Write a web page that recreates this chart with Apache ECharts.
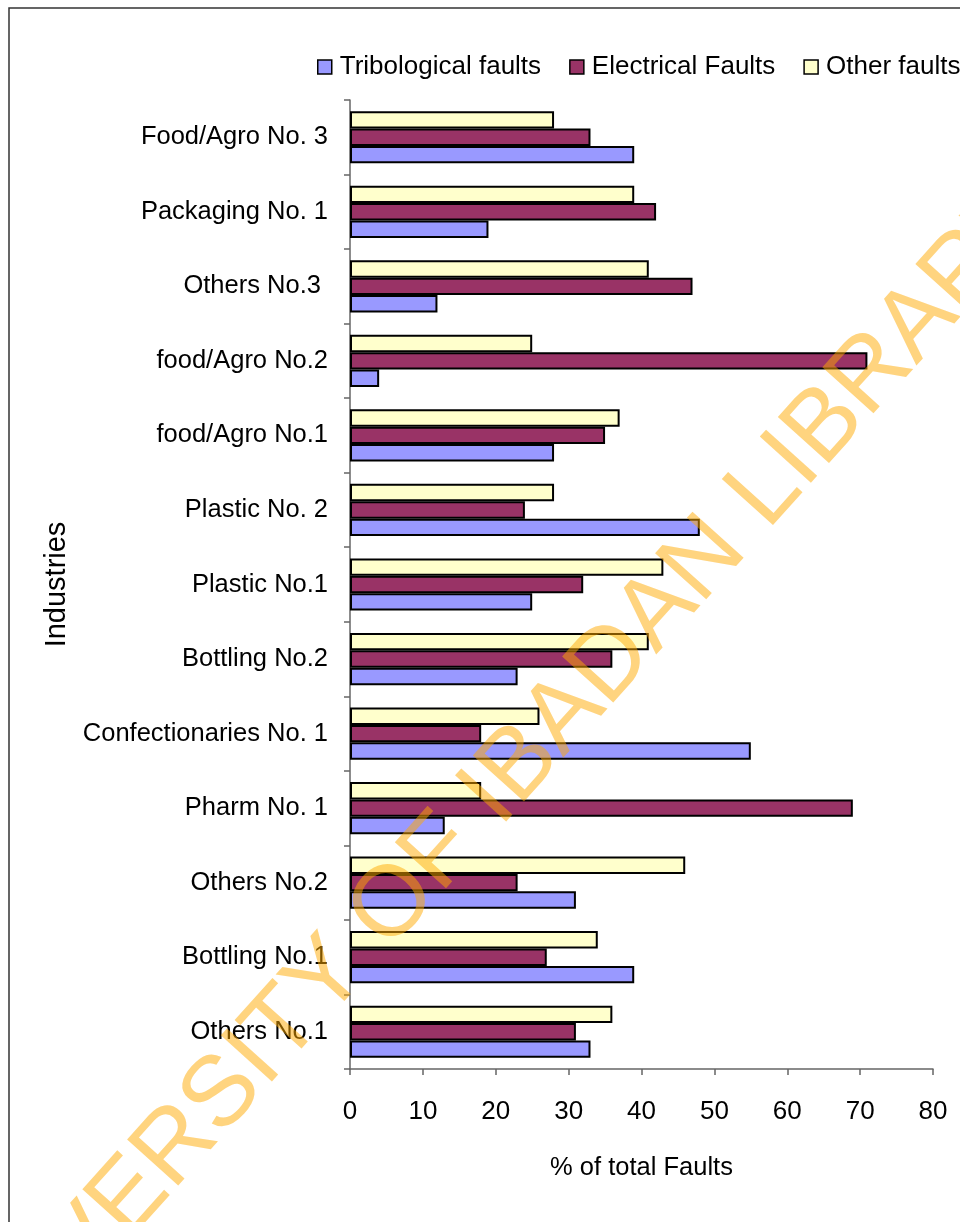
<!DOCTYPE html>
<html>
<head>
<meta charset="utf-8">
<script src="https://cdn.jsdelivr.net/npm/echarts@6/dist/echarts.min.js"></script>
<style>
html,body{margin:0;padding:0;background:#fff;}
#chart{width:960px;height:1222px;}
</style>
</head>
<body>
<div id="chart"></div>
<script>
// categories listed bottom to top
var categories = ['Others No.1','Bottling No.1','Others No.2','Pharm No. 1','Confectionaries No. 1','Bottling No.2','Plastic No.1','Plastic No. 2','food/Agro No.1','food/Agro No.2','Others No.3 ','Packaging No. 1','Food/Agro No. 3'];
var tribological = [33, 39, 31, 13, 55, 23, 25, 48, 28, 4, 12, 19, 39];
var electrical   = [31, 27, 23, 69, 18, 36, 32, 24, 35, 71, 47, 42, 33];
var otherFaults  = [36, 34, 46, 18, 26, 41, 43, 28, 37, 25, 41, 39, 28];
var seriesNames = ['Tribological faults','Electrical Faults','Other faults'];
var xTicks = [0,10,20,30,40,50,60,70,80];
var watermark = 'UNIVERSITY OF IBADAN LIBRARY';

var FONT = 'Liberation Sans, Arial, sans-serif';
var chart = echarts.init(document.getElementById('chart'), null, {renderer:'canvas'});

function mk(name, data, color){
  return {
    name: name, type: 'bar', data: data,
    barGap: '0%', barCategoryGap: '30%',
    itemStyle: {color: color, borderColor: '#000', borderWidth: 2},
    emphasis: {disabled: true},
    animation: false
  };
}

var option = {
  animation: false,
  backgroundColor: '#fff',
  textStyle: {fontFamily: FONT},
  legend: {
    data: seriesNames,
    left: 312, top: 49, width: 900,
    itemWidth: 20, itemHeight: 14, itemGap: 28,
    icon: 'path://M0,0H10V10H0Z',
    itemStyle: {borderColor: '#000', borderWidth: 1.5},
    textStyle: {fontFamily: FONT, fontSize: 26, color: '#000'}
  },
  grid: {left: 350, right: 27, top: 100, bottom: 153, containLabel: false},
  xAxis: {
    type: 'value', min: xTicks[0], max: xTicks[xTicks.length-1], interval: 10,
    name: '% of total Faults', nameLocation: 'middle', nameGap: 86,
    nameTextStyle: {fontFamily: FONT, fontSize: 25.5, color: '#000'},
    axisLine: {show: true, lineStyle: {color: '#666', width: 1.5}},
    axisTick: {show: true, length: 6, lineStyle: {color: '#666', width: 1.5}},
    axisLabel: {fontFamily: FONT, fontSize: 26, color: '#000', margin: 30},
    splitLine: {show: false}
  },
  yAxis: {
    type: 'category', data: categories,
    name: 'Industries', nameLocation: 'middle', nameGap: 279, nameRotate: 90,
    nameTextStyle: {fontFamily: FONT, fontSize: 29, color: '#000'},
    axisLine: {show: true, lineStyle: {color: '#666', width: 1.5}},
    axisTick: {show: true, length: 6, lineStyle: {color: '#666', width: 1.5}},
    axisLabel: {fontFamily: FONT, fontSize: 25.5, color: '#000', margin: 22, interval: 0}
  },
  series: [
    mk(seriesNames[2], otherFaults, '#FFFFCC'),
    mk(seriesNames[1], electrical, '#993366'),
    mk(seriesNames[0], tribological, '#9999FF')
  ],
  graphic: [
    {type: 'rect', z: 100, silent: true,
     shape: {x: 9, y: 8, width: 1100, height: 1400},
     style: {fill: 'none', stroke: '#333', lineWidth: 1.5}},
    {type: 'text', z: 200, silent: true,
     x: 490, y: 798, rotation: 48 * Math.PI / 180,
     style: {text: watermark, fontFamily: FONT, fontSize: 100,
             fill: 'rgba(255,170,0,0.5)', align: 'center', verticalAlign: 'middle'}}
  ]
};
chart.setOption(option);
</script>
</body>
</html>
